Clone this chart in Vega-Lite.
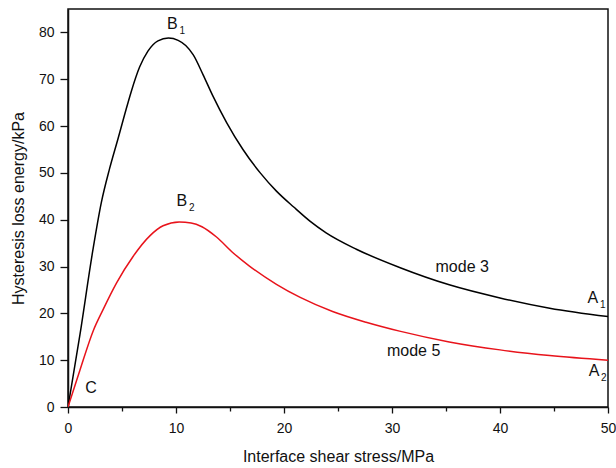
{
  "$schema": "https://vega.github.io/schema/vega-lite/v6.json",
  "autosize": "none",
  "width": 540,
  "height": 398,
  "padding": {"left": 68, "top": 9, "right": 8, "bottom": 61},
  "background": "white",
  "config": {
    "view": {"stroke": "#111", "strokeWidth": 1.5},
    "font": "Liberation Sans",
    "axis": {
      "grid": false,
      "domainColor": "#111",
      "domainWidth": 1.5,
      "tickColor": "#111",
      "tickWidth": 1.3,
      "labelFont": "Liberation Sans",
      "labelFontSize": 14,
      "labelColor": "#111",
      "titleFont": "Liberation Sans",
      "titleFontSize": 16,
      "titleFontWeight": "normal",
      "titleColor": "#111"
    }
  },
  "datasets": {
    "curves": [
      {"x": 0, "y": 0, "s": "mode 3"},
      {"x": 1.11, "y": 15.5, "s": "mode 3"},
      {"x": 2.31, "y": 33.6, "s": "mode 3"},
      {"x": 3.08, "y": 43.6, "s": "mode 3"},
      {"x": 3.85, "y": 50.9, "s": "mode 3"},
      {"x": 4.63, "y": 57.3, "s": "mode 3"},
      {"x": 5.24, "y": 62.4, "s": "mode 3"},
      {"x": 5.86, "y": 67.4, "s": "mode 3"},
      {"x": 6.63, "y": 72.6, "s": "mode 3"},
      {"x": 7.4, "y": 76.0, "s": "mode 3"},
      {"x": 8.33, "y": 78.2, "s": "mode 3"},
      {"x": 9.3, "y": 78.8, "s": "mode 3"},
      {"x": 10.2, "y": 78.3, "s": "mode 3"},
      {"x": 10.9, "y": 77.2, "s": "mode 3"},
      {"x": 11.6, "y": 75.2, "s": "mode 3"},
      {"x": 12.5, "y": 71.0, "s": "mode 3"},
      {"x": 13.4, "y": 66.5, "s": "mode 3"},
      {"x": 14.7, "y": 60.7, "s": "mode 3"},
      {"x": 16.2, "y": 55.0, "s": "mode 3"},
      {"x": 17.8, "y": 50.0, "s": "mode 3"},
      {"x": 19.3, "y": 46.1, "s": "mode 3"},
      {"x": 20.9, "y": 42.7, "s": "mode 3"},
      {"x": 22.4, "y": 39.7, "s": "mode 3"},
      {"x": 23.9, "y": 37.2, "s": "mode 3"},
      {"x": 26.7, "y": 33.7, "s": "mode 3"},
      {"x": 30.7, "y": 29.8, "s": "mode 3"},
      {"x": 35.3, "y": 26.1, "s": "mode 3"},
      {"x": 40, "y": 23.3, "s": "mode 3"},
      {"x": 44.6, "y": 21.1, "s": "mode 3"},
      {"x": 50, "y": 19.3, "s": "mode 3"},
      {"x": 0, "y": 0, "s": "mode 5"},
      {"x": 1.11, "y": 7.9, "s": "mode 5"},
      {"x": 2.34, "y": 16.3, "s": "mode 5"},
      {"x": 3.27, "y": 20.9, "s": "mode 5"},
      {"x": 4.5, "y": 26.5, "s": "mode 5"},
      {"x": 6.04, "y": 32.2, "s": "mode 5"},
      {"x": 7.6, "y": 36.6, "s": "mode 5"},
      {"x": 8.8, "y": 38.7, "s": "mode 5"},
      {"x": 10.3, "y": 39.5, "s": "mode 5"},
      {"x": 11.4, "y": 39.3, "s": "mode 5"},
      {"x": 12.4, "y": 38.5, "s": "mode 5"},
      {"x": 13.75, "y": 36.3, "s": "mode 5"},
      {"x": 15.3, "y": 32.9, "s": "mode 5"},
      {"x": 16.8, "y": 30.1, "s": "mode 5"},
      {"x": 19.3, "y": 26.2, "s": "mode 5"},
      {"x": 21.5, "y": 23.4, "s": "mode 5"},
      {"x": 24.5, "y": 20.4, "s": "mode 5"},
      {"x": 27.6, "y": 18.1, "s": "mode 5"},
      {"x": 30.7, "y": 16.2, "s": "mode 5"},
      {"x": 35.3, "y": 13.9, "s": "mode 5"},
      {"x": 40, "y": 12.2, "s": "mode 5"},
      {"x": 44.6, "y": 11.0, "s": "mode 5"},
      {"x": 50, "y": 10.0, "s": "mode 5"}
    ],
    "labels": [
      {"x": 9.67, "y": 81.9, "t": "B", "sub": "1"},
      {"x": 10.55, "y": 43.9, "t": "B", "sub": "2"},
      {"x": 36.5, "y": 30.0, "t": "mode 3", "sub": ""},
      {"x": 32.0, "y": 11.9, "t": "mode 5", "sub": ""},
      {"x": 48.6, "y": 23.2, "t": "A", "sub": "1"},
      {"x": 48.7, "y": 7.6, "t": "A", "sub": "2"},
      {"x": 2.13, "y": 4.0, "t": "C", "sub": ""}
    ]
  },
  "layer": [
    {
      "data": {"name": "curves"},
      "mark": {"type": "line", "interpolate": "monotone", "strokeWidth": 1.5, "clip": true},
      "encoding": {
        "x": {
          "field": "x", "type": "quantitative",
          "scale": {"domain": [0, 50], "nice": false, "zero": false},
          "axis": {
            "title": "Interface shear stress/MPa",
            "values": [0, 5, 10, 15, 20, 25, 30, 35, 40, 45, 50],
            "labelExpr": "datum.value % 10 === 0 ? datum.label : ''",
            "tickSize": {"condition": {"test": "datum.value % 10 !== 0", "value": 4}, "value": 6},
            "labelPadding": 8,
            "titlePadding": 13,
            "labelFlush": false
          }
        },
        "y": {
          "field": "y", "type": "quantitative",
          "scale": {"domain": [0, 85], "nice": false},
          "axis": {
            "title": "Hysteresis loss energy/kPa",
            "values": [0, 5, 10, 15, 20, 25, 30, 35, 40, 45, 50, 55, 60, 65, 70, 75, 80],
            "labelExpr": "datum.value % 10 === 0 ? datum.label : ''",
            "tickSize": {"condition": {"test": "datum.value % 10 !== 0", "value": 5}, "value": 8},
            "labelPadding": 6,
            "titlePadding": 12,
            "labelFlush": false
          }
        },
        "color": {
          "field": "s", "type": "nominal",
          "scale": {"domain": ["mode 3", "mode 5"], "range": ["#000000", "#e8131b"]},
          "legend": null
        }
      }
    },
    {
      "data": {"name": "labels"},
      "mark": {"type": "text", "fontSize": 16, "font": "Liberation Sans", "color": "#111", "align": "center", "baseline": "middle"},
      "encoding": {
        "x": {"field": "x", "type": "quantitative"},
        "y": {"field": "y", "type": "quantitative"},
        "text": {"field": "t", "type": "nominal"}
      }
    },
    {
      "data": {"name": "labels"},
      "mark": {"type": "text", "fontSize": 10, "font": "Liberation Sans", "color": "#111", "align": "left", "baseline": "middle", "dx": 7, "dy": 7},
      "encoding": {
        "x": {"field": "x", "type": "quantitative"},
        "y": {"field": "y", "type": "quantitative"},
        "text": {"field": "sub", "type": "nominal"}
      }
    }
  ]
}
